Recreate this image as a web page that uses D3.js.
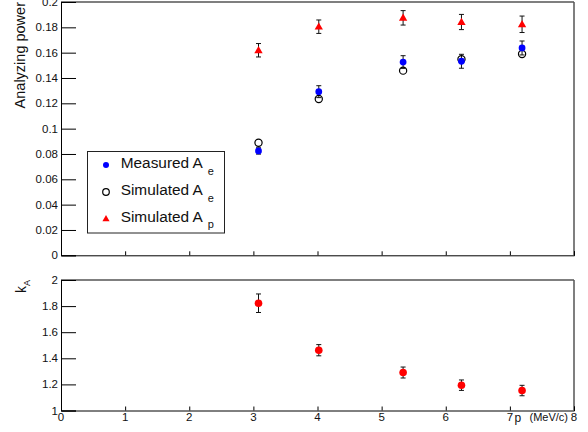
<!DOCTYPE html>
<html><head><meta charset="utf-8">
<script src="https://cdn.jsdelivr.net/npm/d3@7"></script>
<style>body{margin:0;background:#fff}svg{display:block;font-family:"Liberation Sans",Arial,sans-serif}</style>
</head><body>
<script>
// ---- data ----
const momenta = [3.08, 4.02, 5.335, 6.245, 7.19];
const measuredAe = [0.0824, 0.1292, 0.1526, 0.1532, 0.1637];
const measuredAeErr = [0.0025, 0.0047, 0.005, 0.0055, 0.0055];
const simulatedAe = [0.0889, 0.1234, 0.1458, 0.1548, 0.159];
const simulatedAp = [0.1619, 0.1805, 0.1875, 0.1842, 0.1824];
const simulatedApErr = [0.0053, 0.0053, 0.0057, 0.006, 0.0065];
const kA = [1.822, 1.462, 1.291, 1.194, 1.153];
const kAErr = [0.071, 0.043, 0.042, 0.04, 0.04];
const xTickLabels = [0,1,2,3,4,5,6,7,8];
const topYTicks = [0,0.02,0.04,0.06,0.08,0.1,0.12,0.14,0.16,0.18,0.2];
const botYTicks = [1,1.2,1.4,1.6,1.8,2];
const legendLabels = [["Measured A","e"],["Simulated A","e"],["Simulated A","p"]];

const W=588,H=432;
const svg=d3.select("body").append("svg").attr("width",W).attr("height",H);
const x=d3.scaleLinear().domain([0,8]).range([61,574]);
const yT=d3.scaleLinear().domain([0,0.2]).range([255.3,2]);
const yB=d3.scaleLinear().domain([1,2]).range([410.5,280]);

const fmt=d=>d===0?"0":String(+d.toFixed(2));
const FS=11.5;

function range(a,b,s){const r=[];for(let v=a;v<=b+1e-9;v+=s)r.push(+v.toFixed(4));return r;}

function frame(y, y0, y1){
  const g=svg.append("g");
  g.append("line").attr("x1",x(0)).attr("x2",x(8)).attr("y1",y(y1)).attr("y2",y(y1)).attr("stroke","#555").attr("stroke-width",1.5);
  g.append("line").attr("x1",x(8)).attr("x2",x(8)).attr("y1",y(y1)).attr("y2",y(y0)).attr("stroke","#555").attr("stroke-width",1.5);
}

function yAxis(y, major, minorStep, lo, hi){
  const g=svg.append("g").attr("transform",`translate(${x(0)},0)`);
  g.call(d3.axisRight(y).tickValues(range(lo,hi,minorStep)).tickSize(7.5).tickFormat(""));
  g.call(d3.axisRight(y).tickValues(major).tickSize(15).tickFormat(""));
  g.selectAll(".domain").attr("stroke","#000");
  g.selectAll(".tick line").attr("stroke","#000");
  svg.append("g").selectAll("text").data(major).join("text")
    .attr("x",x(0)-3).attr("y",d=>y(d)).attr("dy","0.35em")
    .attr("text-anchor","end").attr("font-size",FS).attr("fill","#111").text(fmt);
}

function xAxis(yPix){
  const g=svg.append("g").attr("transform",`translate(0,${yPix})`);
  g.call(d3.axisTop(x).tickValues(range(0,8,0.2)).tickSize(2).tickFormat(""));
  g.call(d3.axisTop(x).tickValues(xTickLabels).tickSize(4).tickFormat(""));
  g.selectAll(".domain").attr("stroke","#000");
  g.selectAll(".tick line").attr("stroke","#000");
}

// ---- top panel ----
frame(yT,0,0.2);
xAxis(yT(0));
yAxis(yT, topYTicks, 0.005, 0, 0.2);

function errBars(g, xs, ys, es, y){
  const d=xs.map((v,i)=>({x:v,y:ys[i],e:es[i]}));
  const eg=g.append("g").attr("stroke","#111").attr("stroke-width",1);
  eg.selectAll("line.v").data(d).join("line").attr("x1",d=>x(d.x)).attr("x2",d=>x(d.x)).attr("y1",d=>y(d.y-d.e)).attr("y2",d=>y(d.y+d.e));
  eg.selectAll("line.t").data(d).join("line").attr("x1",d=>x(d.x)-2.5).attr("x2",d=>x(d.x)+2.5).attr("y1",d=>y(d.y+d.e)).attr("y2",d=>y(d.y+d.e));
  eg.selectAll("line.b").data(d).join("line").attr("x1",d=>x(d.x)-2.5).attr("x2",d=>x(d.x)+2.5).attr("y1",d=>y(d.y-d.e)).attr("y2",d=>y(d.y-d.e));
}
const tri=d3.symbol().type(d3.symbolTriangle).size(30);
const gTop=svg.append("g");
errBars(gTop, momenta, simulatedAp, simulatedApErr, yT);
gTop.append("g").selectAll("path").data(momenta).join("path")
  .attr("d",tri).attr("transform",(d,i)=>`translate(${x(d)},${yT(simulatedAp[i])+0.5})`).attr("fill","#ff0000");
errBars(gTop, momenta, measuredAe, measuredAeErr, yT);
gTop.append("g").selectAll("circle").data(momenta).join("circle")
  .attr("cx",d=>x(d)).attr("cy",(d,i)=>yT(simulatedAe[i])).attr("r",3.6)
  .attr("fill","none").attr("stroke","#000").attr("stroke-width",1.2);
gTop.append("g").selectAll("circle").data(momenta).join("circle")
  .attr("cx",d=>x(d)).attr("cy",(d,i)=>yT(measuredAe[i])).attr("r",3.4).attr("fill","#0000ff");

// axis title top
svg.append("text").attr("transform",`translate(25,2) rotate(-90)`).attr("text-anchor","end")
  .attr("font-size",14.5).attr("fill","#111").text("Analyzing power");

// legend
const lg=svg.append("g");
lg.append("rect").attr("x",87.5).attr("y",151.5).attr("width",137).attr("height",81.5).attr("fill","#fff").attr("stroke","#222").attr("stroke-width",1);
const rowsY=[168.3,195,221.7];
legendLabels.forEach((lab,i)=>{
  const t=lg.append("text").attr("x",120.7).attr("y",rowsY[i]).attr("font-size",15.4).attr("fill","#111");
  t.append("tspan").text(lab[0]);
  t.append("tspan").attr("dx",5).attr("dy",6.5).attr("font-size",11).text(lab[1]);
});
lg.append("circle").attr("cx",106).attr("cy",rowsY[0]-3.3).attr("r",3).attr("fill","#0000ff");
lg.append("circle").attr("cx",106).attr("cy",rowsY[1]-3).attr("r",3.3).attr("fill","none").attr("stroke","#000").attr("stroke-width",1.2);
lg.append("path").attr("d",d3.symbol().type(d3.symbolTriangle).size(22)).attr("transform",`translate(106,${rowsY[2]-2.5})`).attr("fill","#ff0000");

// ---- bottom panel ----
frame(yB,1,2);
xAxis(yB(1));
yAxis(yB, botYTicks, 0.05, 1, 2);
const gBot=svg.append("g");
errBars(gBot, momenta, kA, kAErr, yB);
gBot.append("g").selectAll("circle").data(momenta).join("circle")
  .attr("cx",d=>x(d)).attr("cy",(d,i)=>yB(kA[i])).attr("r",3.8).attr("fill","#ff0000");

// x labels
svg.append("g").selectAll("text").data(xTickLabels).join("text")
  .attr("x",d=>x(d)).attr("y",420.5).attr("text-anchor","middle").attr("font-size",FS).attr("fill","#111").text(d=>d);
// x title
svg.append("text").attr("x",514.5).attr("y",421.5).attr("font-size",12).attr("fill","#111").text("p");
svg.append("text").attr("x",568).attr("y",421).attr("text-anchor","end").attr("font-size",11).attr("fill","#111").text("(MeV/c)");

// k_A title
const kt=svg.append("text").attr("transform",`translate(26,293) rotate(-90)`).attr("font-size",14).attr("fill","#111");
kt.append("tspan").text("k");
kt.append("tspan").attr("dy",4).attr("font-size",9).text("A");
</script>
</body></html>
